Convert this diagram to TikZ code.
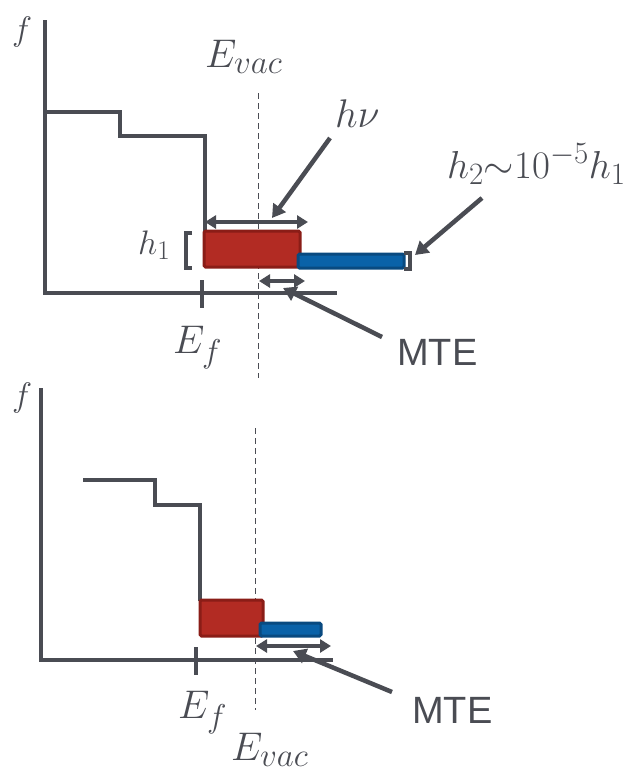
\RequirePackage{fix-cm}
\documentclass[tikz,border=0pt]{standalone}
\usepackage{fontspec}
\usetikzlibrary{arrows.meta}
\newfontfamily\labelsans{Liberation Sans}
% large labels with generous sub/superscripts
\DeclareMathSizes{40}{40}{33}{26}
\DeclareMathSizes{34}{34}{27}{21}
\DeclareMathSizes{39}{39}{31}{24}
\definecolor{axisgrey}{HTML}{4A4C53}
\definecolor{boxred}{HTML}{B22B23}
\definecolor{boxredline}{HTML}{8A1D17}
\definecolor{barblue}{HTML}{0A62A8}
\definecolor{barblueline}{HTML}{094A80}
\tikzset{
  axisline/.style={draw=axisgrey, line width=4.5pt, line cap=rect},
  stepline/.style={draw=axisgrey, line width=4pt, line join=miter},
  vacline/.style={draw=axisgrey, line width=1pt, dash pattern=on 6pt off 4pt},
  tickline/.style={draw=axisgrey, line width=4pt},
  redbox/.style={fill=boxred, draw=boxredline, line width=3pt, rounded corners=1.5pt, inner sep=0pt, outer sep=0pt},
  bluebar/.style={fill=barblue, draw=barblueline, line width=3pt, rounded corners=1.5pt, inner sep=0pt, outer sep=0pt},
  span/.style={draw=axisgrey, line width=4pt, {Triangle[length=11pt,width=13pt]}-{Triangle[length=11pt,width=13pt]}},
  pointer/.style={draw=axisgrey, line width=4.5pt, -{Triangle[length=13pt,width=15pt]}},
  brk/.style={draw=axisgrey, line width=3.5pt},
  mathlbl/.style={text=axisgrey, inner sep=0pt, anchor=base west, font=\fontsize{40}{40}\selectfont},
  smallmath/.style={mathlbl, font=\fontsize{34}{34}\selectfont},
  midmath/.style={mathlbl, font=\fontsize{39}{39}\selectfont},
  sanslbl/.style={text=axisgrey, inner sep=0pt, anchor=base west, font=\labelsans\fontsize{38}{38}\selectfont},
}
\begin{document}
\begin{tikzpicture}[x=1pt, y=-1pt]
\useasboundingbox (0,0) rectangle (640,774);

% ---------- upper panel ----------
\coordinate (tyTop) at (45,22);
\coordinate (tOrig) at (45,293);
\coordinate (txEnd) at (335,293);
\draw[axisline] (tyTop) -- (tOrig) -- (txEnd);
\node[smallmath] (tf) at (12,40) {$f$};

% distribution
\draw[stepline] (45,112) -- (120,112) -- (120,136) -- (205,136) -- (205,231);

% vacuum level
\coordinate (tvacTop) at (258,93);
\coordinate (tvacBot) at (258,378);
\draw[vacline] (tvacTop) -- (tvacBot);
\node[mathlbl] (tEvac) at (205,67) {$E_{vac}$};

% Fermi level
\coordinate (tEfA) at (202,280);
\coordinate (tEfB) at (202,308);
\draw[tickline] (tEfA) -- (tEfB);
\node[mathlbl] (tEf) at (173,353) {$E_f$};

% emitted populations
\node[redbox, anchor=north west, minimum width=96pt, minimum height=36pt] (tred) at (204,231) {};
\node[bluebar, anchor=north west, minimum width=106pt, minimum height=14pt] (tblue) at (298,254) {};

% h1 bracket
\draw[brk] (192,233) -- (186,233) -- (186,268) -- (192,268);
\node[smallmath] (th1) at (138,254) {$h_1$};

% h2 bracket
\draw[brk] (404,253) -- (410,253) -- (410,269) -- (404,269);
\node[midmath] (th2) at (447,178) {$h_2{\sim}10^{-5}h_1$};

% photon energy span
\coordinate (thvL) at (205,222);
\coordinate (thvR) at (308,222);
\draw[span] (thvL) -- (thvR);
\node[mathlbl] (thv) at (335,127) {$h\nu$};
\coordinate (thvTail) at (330,138);
\coordinate (thvHead) at (272,218);
\draw[pointer] (thvTail) -- (thvHead);

% pointer to h2
\coordinate (th2Tail) at (482,198);
\coordinate (th2Head) at (415,255);
\draw[pointer] (th2Tail) -- (th2Head);

% MTE span
\coordinate (tmL) at (259,281);
\coordinate (tmR) at (305,281);
\draw[span] (tmL) -- (tmR);
\node[sanslbl] (tMTE) at (397,365) {MTE};
\coordinate (tmTail) at (382,337);
\coordinate (tmHead) at (283,288);
\draw[pointer] (tmTail) -- (tmHead);

% ---------- lower panel ----------
\coordinate (byTop) at (41,390);
\coordinate (bOrig) at (41,660);
\coordinate (bxEnd) at (331,660);
\draw[axisline] (byTop) -- (bOrig) -- (bxEnd);
\node[smallmath] (bf) at (12,406) {$f$};

\draw[stepline] (83,480) -- (155,480) -- (155,505) -- (200,505) -- (200,601);

\coordinate (bvacTop) at (255,428);
\coordinate (bvacBot) at (255,710);
\draw[vacline] (bvacTop) -- (bvacBot);
\node[mathlbl] (bEvac) at (231,760) {$E_{vac}$};

\coordinate (bEfA) at (196,647);
\coordinate (bEfB) at (196,675);
\draw[tickline] (bEfA) -- (bEfB);
\node[mathlbl] (bEf) at (178,718) {$E_f$};

\node[redbox, anchor=north west, minimum width=63pt, minimum height=36pt] (bred) at (200,600) {};
\node[bluebar, anchor=north west, minimum width=61pt, minimum height=13pt] (bblue) at (260,623) {};

\coordinate (bmL) at (256,646);
\coordinate (bmR) at (331,646);
\draw[span] (bmL) -- (bmR);
\node[sanslbl] (bMTE) at (412,723) {MTE};
\coordinate (bmTail) at (392,692);
\coordinate (bmHead) at (293,651);
\draw[pointer] (bmTail) -- (bmHead);
\end{tikzpicture}
\end{document}
